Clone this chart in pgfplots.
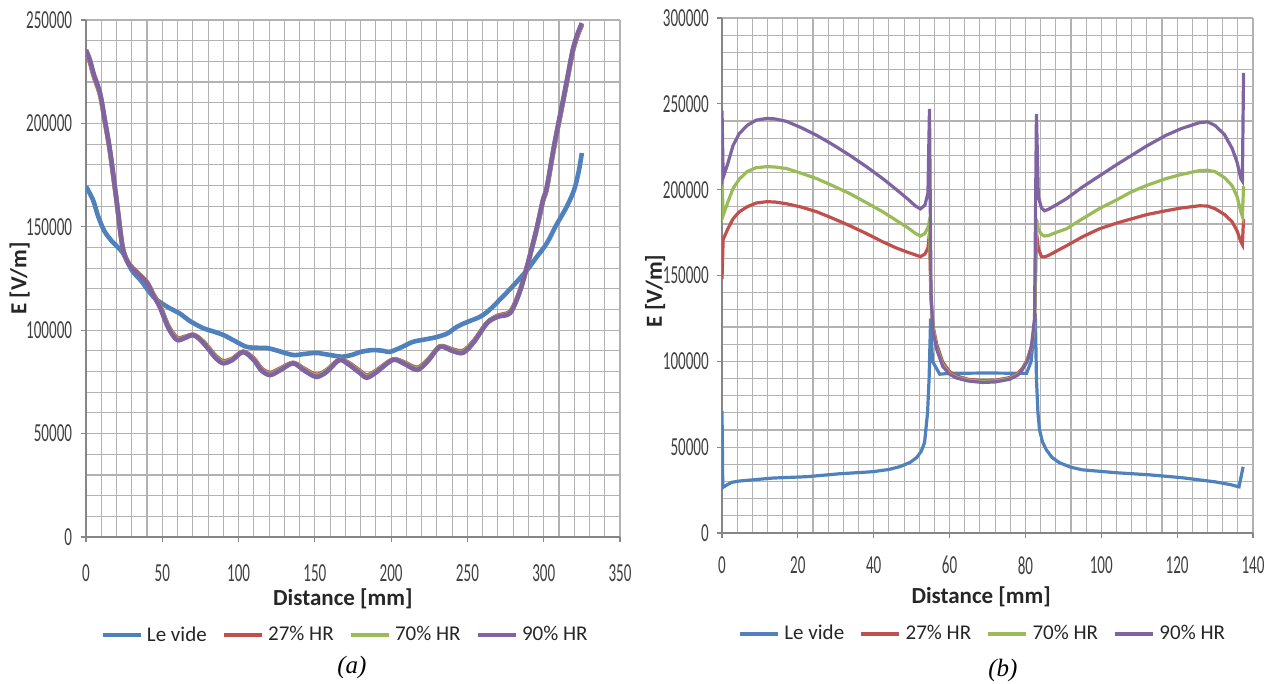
\documentclass[border=0pt]{standalone}
\usepackage{fontspec}
\setmainfont{Carlito}
\newfontfamily\tickfont[FakeStretch=0.58]{Carlito}
\newfontfamily\capfont{Liberation Serif}
\usepackage{pgfplots}
\usepackage{pgfplotstable}
\pgfplotsset{compat=1.18}

\definecolor{vide}{HTML}{4F81BD}
\definecolor{hrA}{HTML}{C0504D}
\definecolor{hrB}{HTML}{9BBB59}
\definecolor{hrC}{HTML}{8064A2}
\definecolor{gridc}{RGB}{178,178,178}
\definecolor{axisc}{RGB}{134,134,134}

% (a) field along the 350 mm path
\pgfplotstableread{
x      E
0      169500
4.6    163000
8      155000
12     148000
17     143000
24     137500
30     129000
36     124000
42     118000
46.5   114600
54     111000
61.6   108000
68     104500
76.7   101000
83     99500
90     97700
97     95000
105    92000
112    91500
118.6  91400
125    90200
135.7  88000
143    88500
151    89000
160    88000
168    87200
175    88200
180    89500
188    90400
195    90000
199    89500
206    91500
214    94300
222    95500
230    96700
237    98500
243    101600
250    104000
258    106400
264    109500
271    114600
280    121500
289    129000
295    135000
302    142000
308    150500
315    159600
320    168000
323    177000
325    185700
}\videA

\pgfplotstableread{
x      r       g       p
0      234000  235000  235500
2.6    229500  230200  230700
5      223000  223600  224000
9.2    213800  214300  214700
12.5   200200  200600  201000
15.7   186400  186700  187000
20     162800  162900  163000
24     140200  140100  140000
28     132400  132200  132000
33     128400  128200  128000
40     123200  123000  122800
44     117600  117300  117000
48.5   111800  111400  111000
54     102000  101500  101000
59.6   96300   95800   95300
65     96800   96500   96300
70     97800   97700   97700
74     96300   96100   96000
79     92800   92400   92000
85     87400   86900   86500
90     85000   84500   84000
96     86200   85900   85600
103    89600   89500   89500
110    86200   85800   85500
115    81400   80900   80500
120.6  79300   78800   78300
127    81300   80900   80500
135.7  84200   84100   84000
143    81300   80900   80500
151    78400   77900   77400
158    80800   80400   80000
166    85800   85700   85600
172    84200   83800   83500
179.5  80300   79800   79300
184    78000   77500   77000
190    80300   79900   79500
201    85800   85700   85600
208    84600   84300   84000
217    81800   81300   80800
224    85600   85300   85000
232    92200   92100   92000
240    90700   90300   90000
247    89900   89400   89000
254    94600   94300   94000
263    103700  103600  103500
270    107000  106700  106500
278    109000  108600  108300
284    118300  118100  118000
289    130600  130600  130600
295    147600  147800  148000
299.5  162400  162700  163000
302    168300  168600  169000
307    189200  189600  190000
312.6  210000  210500  211000
316    223000  223500  224000
319    234500  235000  235500
322    242000  242500  243000
325    247500  248000  248500
}\humA

% (b) field along the 140 mm path
\pgfplotstableread{
x      E
0      71000
0.2    26500
1.3    28000
2.5    29500
4.7    30300
13.4   32000
22.4   32800
31     34500
39.7   35700
44     37000
46.8   38600
49.5   41000
51.3   43900
52.5   47500
53.4   52600
54.2   70200
54.6   90000
55     125000
55.5   100000
57.4   92500
60     93000
70     93200
80.3   93000
81.5   100000
82.4   120000
82.6   128000
82.9   90000
83.3   70000
83.7   60200
84.5   53000
85.5   48500
87     44000
89     40900
92     38300
95     36800
104    35100
112.6  33900
121.3  32200
130    29800
134    28200
136.3  26900
137.4  38600
}\videB

\pgfplotstableread{
x      r       g       p
0      148000  207000  246000
0.3    171000  185000  207000
1.5    177000  192500  215000
2.9    183000  200600  225700
4.5    187000  206000  232500
6.6    190000  210500  237400
9      192200  212800  240500
11.8   193000  213400  241500
14     192800  213200  241200
17     191800  212300  239800
21     189800  209500  236000
25     187100  206400  231600
29     183500  202500  226500
33.7   179000  197700  220000
38     174500  192500  213500
42.4   169600  187100  206400
46     166000  182000  200000
49     163500  177800  194500
51     162000  174500  190500
52.3   161000  173000  188800
53.5   162500  174500  191000
54.3   166000  178000  198000
54.7   175000  182000  247000
55.1   136000  138000  140000
55.6   121000  120000  118000
56.6   110000  108000  107000
58.2   99500   98000   97000
60     94000   93000   92500
61.8   91500   90800   90300
65     89500   89000   88500
68.7   88800   88300   87700
72     89000   88500   88000
75.8   90500   90000   89500
78     93000   92500   92000
79.2   96000   95500   95300
80.5   101000  100500  100000
81.6   109000  108000  108800
82.4   121000  122000  125000
82.9   175000  183000  244000
83.4   166000  177000  196000
84.2   161000  174000  189500
85     160800  173000  187700
86     161600  173200  188500
88     164000  175000  191000
90.8   167300  177200  194700
95     172500  183000  201500
99.5   177200  189000  208000
104    180500  194000  214500
108    183000  198800  220000
112    185500  202500  225500
117    187700  206400  231600
121    189300  208800  235500
125.8  190600  211100  239000
128    190500  211300  239500
130    188900  210500  237400
132.5  185500  207000  232000
134.5  181300  202300  224000
135.8  176000  196000  216000
136.8  169600  187100  206400
137.2  168000  184500  205000
137.5  183000  202000  268000
}\humB

\pgfplotsset{
  legend image code/.code={\draw[#1,line width=2.2pt] (0pt,0pt) -- (19pt,0pt);},
  excel/.style={
    scale only axis,
    clip mode=individual,
    axis x line=bottom, axis y line=left,
    axis line style={-, axisc, line width=0.8pt},
    tick align=outside,
    major tick length=2.5pt, minor tick length=0pt,
    tick style={axisc, line width=0.6pt},
    grid=both,
    major grid style={gridc, line width=0.55pt},
    minor grid style={gridc, line width=0.55pt},
    minor x tick num=4, minor y tick num=4,
    scaled ticks=false,
    /pgf/number format/fixed,
    /pgf/number format/precision=0,
    /pgf/number format/set thousands separator={},
    /pgf/number format/assume math mode=true,
    ticklabel style={font=\tickfont\fontsize{13}{14}\selectfont, text=black!75},
    label style={font=\bfseries\fontsize{11.5}{13}\selectfont, text=black!85},
    legend style={draw=none, fill=none, anchor=center,
      font=\fontsize{10.5}{12}\selectfont, text=black!85,
      legend columns=4,
      /tikz/every even column/.append style={column sep=5.5pt}},
  },
}

\begin{document}
\begin{tikzpicture}
\path[use as bounding box] (0pt,0pt) rectangle (639pt,342pt);

% panel (a)
\begin{axis}[excel,
  at={(43pt,73.5pt)}, anchor=south west,
  width=267pt, height=258.5pt,
  xmin=0, xmax=350, ymin=0, ymax=250000,
  xtick={0,50,...,350}, ytick={0,50000,...,250000},
  xticklabel style={yshift=-7pt},
  xlabel={Distance [mm]}, ylabel={E [V/m]},
  xlabel style={at={(axis description cs:0.481,-0.12)}, anchor=center},
  ylabel style={at={(axis description cs:-0.124,0.5)}, anchor=center},
  legend style={at={(axis description cs:0.487,-0.19)}},
  line width=2.3pt]
\addplot[vide, smooth] table[x=x, y=E] {\videA};
\addplot[hrA, smooth] table[x=x, y=r] {\humA};
\addplot[hrB, smooth] table[x=x, y=g] {\humA};
\addplot[hrC, smooth] table[x=x, y=p] {\humA};
\legend{Le vide, 27\% HR, 70\% HR, 90\% HR}
\node[font=\capfont\itshape\fontsize{12.5}{14}\selectfont] at (axis description cs:0.498,-0.253) {(a)};
\end{axis}

% panel (b)
\begin{axis}[excel,
  at={(361pt,75.5pt)}, anchor=south west,
  width=265.5pt, height=257.5pt,
  xmin=0, xmax=140, ymin=0, ymax=300000,
  xtick={0,20,...,140}, ytick={0,50000,...,300000},
  xticklabel style={yshift=-5pt},
  xlabel={Distance [mm]}, ylabel={E [V/m]},
  xlabel style={at={(axis description cs:0.488,-0.124)}, anchor=center},
  ylabel style={at={(axis description cs:-0.126,0.47)}, anchor=center},
  legend style={at={(axis description cs:0.4925,-0.196)}},
  line width=1.6pt]
\addplot[vide] table[x=x, y=E] {\videB};
\addplot[hrA] table[x=x, y=r] {\humB};
\addplot[hrB] table[x=x, y=g] {\humB};
\addplot[hrC] table[x=x, y=p] {\humB};
\legend{Le vide, 27\% HR, 70\% HR, 90\% HR}
\node[font=\capfont\itshape\fontsize{12.5}{14}\selectfont] at (axis description cs:0.529,-0.266) {(b)};
\end{axis}
\end{tikzpicture}
\end{document}
